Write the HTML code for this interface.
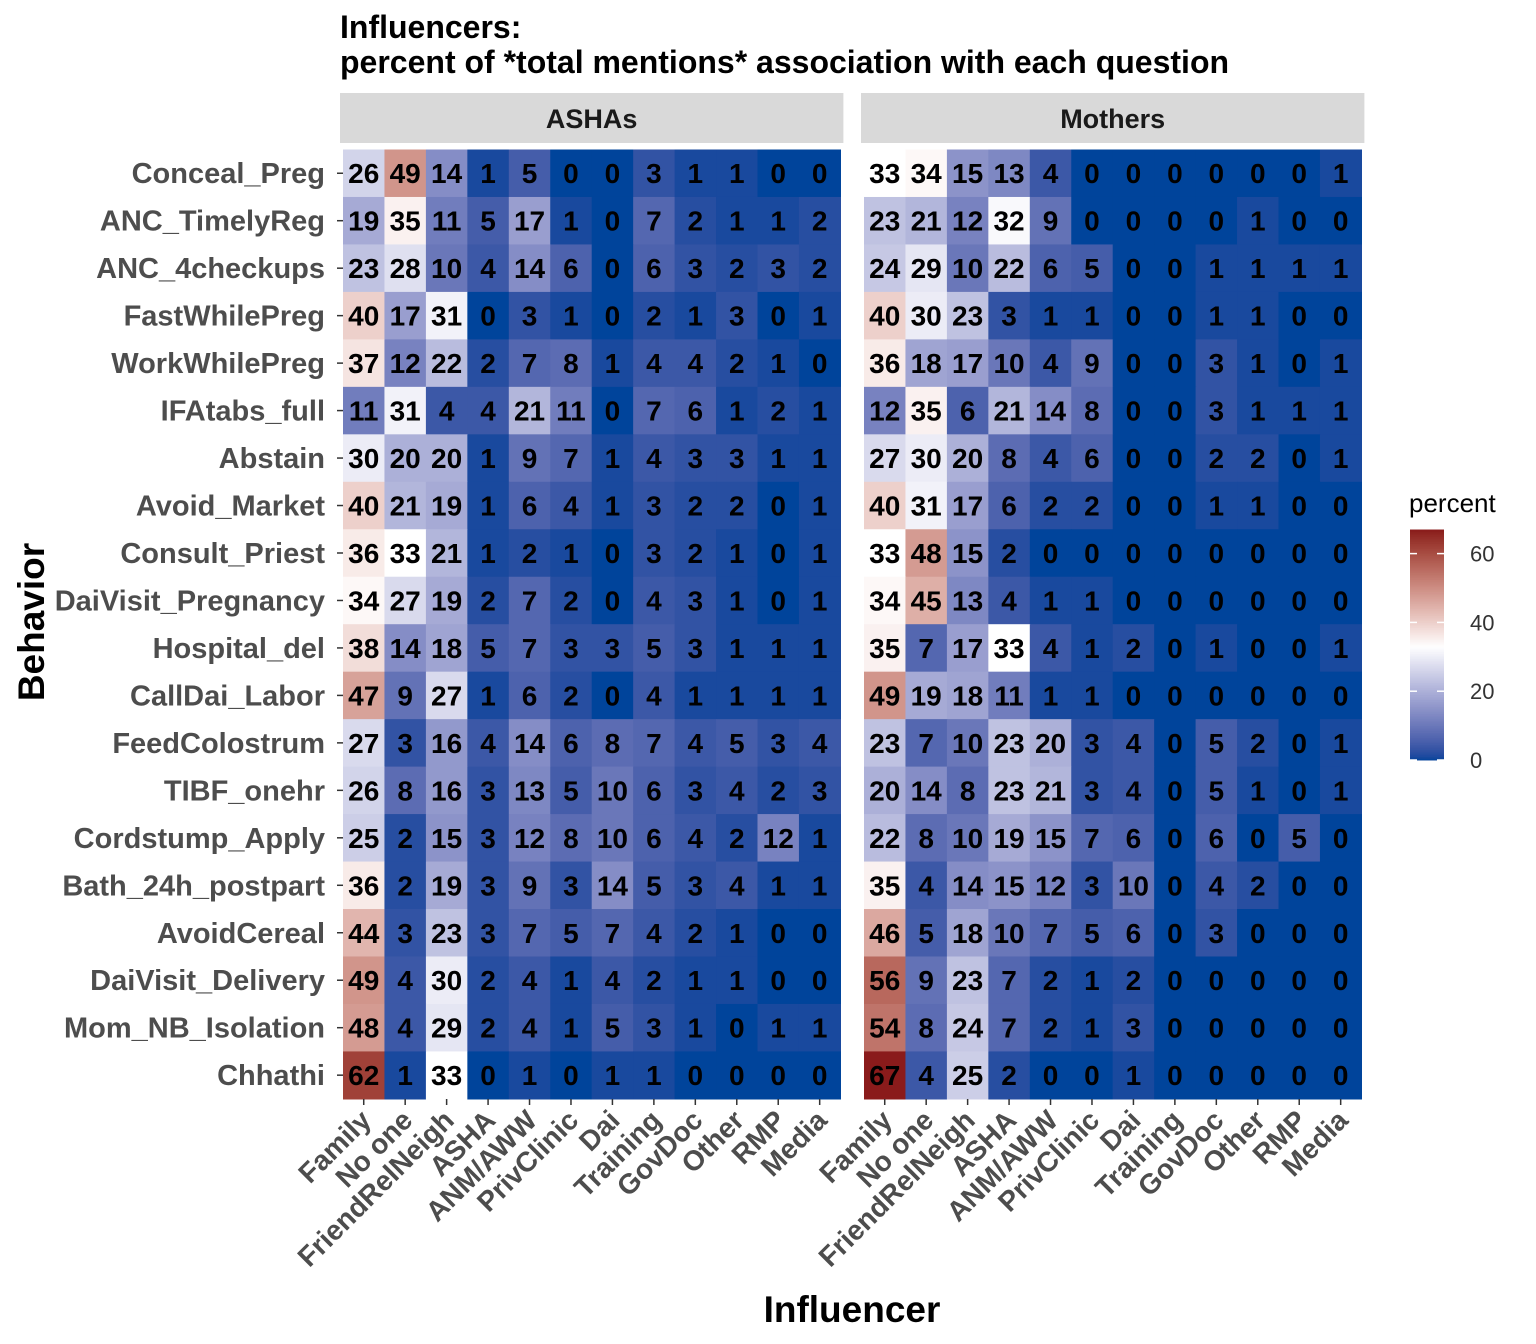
<!DOCTYPE html>
<html><head><meta charset="utf-8"><style>
body{margin:0;background:#fff;}
svg{display:block;font-family:"Liberation Sans",Arial,sans-serif;}
</style></head><body>
<svg id="c" width="1536" height="1344" xmlns="http://www.w3.org/2000/svg">
<text x="340" y="38" font-size="32" font-weight="bold">Influencers:</text>
<text x="340" y="73" font-size="32" font-weight="bold">percent of *total mentions* association with each question</text>
<text x="852" y="1322" font-size="37" font-weight="bold" text-anchor="middle">Influencer</text>
<text transform="translate(44,622) rotate(-90)" font-size="37" font-weight="bold" text-anchor="middle">Behavior</text>
<g id="plots"></g>
<g id="legend"></g>
</svg>
<script>
const behaviors=["Conceal_Preg","ANC_TimelyReg","ANC_4checkups","FastWhilePreg","WorkWhilePreg","IFAtabs_full","Abstain","Avoid_Market","Consult_Priest","DaiVisit_Pregnancy","Hospital_del","CallDai_Labor","FeedColostrum","TIBF_onehr","Cordstump_Apply","Bath_24h_postpart","AvoidCereal","DaiVisit_Delivery","Mom_NB_Isolation","Chhathi"];
const influencers=["Family","No one","FriendRelNeigh","ASHA","ANM/AWW","PrivClinic","Dai","Training","GovDoc","Other","RMP","Media"];
const panels=["ASHAs","Mothers"];
const ashaValues=[
[26,49,14,1,5,0,0,3,1,1,0,0],[19,35,11,5,17,1,0,7,2,1,1,2],[23,28,10,4,14,6,0,6,3,2,3,2],[40,17,31,0,3,1,0,2,1,3,0,1],
[37,12,22,2,7,8,1,4,4,2,1,0],[11,31,4,4,21,11,0,7,6,1,2,1],[30,20,20,1,9,7,1,4,3,3,1,1],[40,21,19,1,6,4,1,3,2,2,0,1],
[36,33,21,1,2,1,0,3,2,1,0,1],[34,27,19,2,7,2,0,4,3,1,0,1],[38,14,18,5,7,3,3,5,3,1,1,1],[47,9,27,1,6,2,0,4,1,1,1,1],
[27,3,16,4,14,6,8,7,4,5,3,4],[26,8,16,3,13,5,10,6,3,4,2,3],[25,2,15,3,12,8,10,6,4,2,12,1],[36,2,19,3,9,3,14,5,3,4,1,1],
[44,3,23,3,7,5,7,4,2,1,0,0],[49,4,30,2,4,1,4,2,1,1,0,0],[48,4,29,2,4,1,5,3,1,0,1,1],[62,1,33,0,1,0,1,1,0,0,0,0]];
const motherValues=[
[33,34,15,13,4,0,0,0,0,0,0,1],[23,21,12,32,9,0,0,0,0,1,0,0],[24,29,10,22,6,5,0,0,1,1,1,1],[40,30,23,3,1,1,0,0,1,1,0,0],
[36,18,17,10,4,9,0,0,3,1,0,1],[12,35,6,21,14,8,0,0,3,1,1,1],[27,30,20,8,4,6,0,0,2,2,0,1],[40,31,17,6,2,2,0,0,1,1,0,0],
[33,48,15,2,0,0,0,0,0,0,0,0],[34,45,13,4,1,1,0,0,0,0,0,0],[35,7,17,33,4,1,2,0,1,0,0,1],[49,19,18,11,1,1,0,0,0,0,0,0],
[23,7,10,23,20,3,4,0,5,2,0,1],[20,14,8,23,21,3,4,0,5,1,0,1],[22,8,10,19,15,7,6,0,6,0,5,0],[35,4,14,15,12,3,10,0,4,2,0,0],
[46,5,18,10,7,5,6,0,3,0,0,0],[56,9,23,7,2,1,2,0,0,0,0,0],[54,8,24,7,2,1,3,0,0,0,0,0],[67,4,25,2,0,0,1,0,0,0,0,0]];
const legendTicks=[0,20,40,60];
const NS="http://www.w3.org/2000/svg";
function mk(t,a,p){const e=document.createElementNS(NS,t);for(const k in a)e.setAttribute(k,a[k]);p.appendChild(e);return e;}
function s2l(c){c/=255;return c<=0.04045?c/12.92:Math.pow((c+0.055)/1.055,2.4);}
function l2s(c){c=c<=0.0031308?12.92*c:1.055*Math.pow(c,1/2.4)-0.055;return Math.max(0,Math.min(255,Math.round(c*255)));}
function toLab(h){const r=s2l(parseInt(h.slice(1,3),16)),g=s2l(parseInt(h.slice(3,5),16)),b=s2l(parseInt(h.slice(5,7),16));
let X=(r*0.4124+g*0.3576+b*0.1805)/0.95047,Y=r*0.2126+g*0.7152+b*0.0722,Z=(r*0.0193+g*0.1192+b*0.9505)/1.08883;
const f=t=>t>0.008856?Math.cbrt(t):7.787*t+16/116;X=f(X);Y=f(Y);Z=f(Z);return[116*Y-16,500*(X-Y),200*(Y-Z)];}
function fromLab(L){let Y=(L[0]+16)/116,X=L[1]/500+Y,Z=Y-L[2]/200;const fi=t=>t*t*t>0.008856?t*t*t:(t-16/116)/7.787;
X=fi(X)*0.95047;Y=fi(Y);Z=fi(Z)*1.08883;
const r=X*3.2406+Y*-1.5372+Z*-0.4986,g=X*-0.9689+Y*1.8758+Z*0.0415,b=X*0.0557+Y*-0.2040+Z*1.0570;
return `rgb(${l2s(r)},${l2s(g)},${l2s(b)})`;}
const LOW=toLab("#00449b"),MID=toLab("#ffffff"),HIGH=toLab("#8a1b1b"),MIDV=33,MAXV=67;
function col(v){let a,b,t;if(v<=MIDV){a=LOW;b=MID;t=v/MIDV;}else{a=MID;b=HIGH;t=Math.min(1,(v-MIDV)/(MAXV-MIDV));}
return fromLab([a[0]+(b[0]-a[0])*t,a[1]+(b[1]-a[1])*t,a[2]+(b[2]-a[2])*t]);}
const gridTop=149.5,rowH=47.47,colW=41.45;
const panelX=[343,864];
const xS=(p,i)=>panelX[p]+i*colW;
const yS=j=>gridTop+j*rowH;
const plots=document.getElementById('plots');
const data=[ashaValues,motherValues];
panels.forEach((pn,p)=>{
  const g=mk('g',{},plots);
  
  
  const sx=panelX[p]-3,sw=12*colW+6;
  const st=mk('rect',{x:sx,y:93,width:sw,height:50,fill:'#d9d9d9'},g);
  
  
  const stt=mk('text',{x:sx+sw/2,y:128,'font-size':27,'font-weight':'bold','text-anchor':'middle',fill:'#1a1a1a'},g);
  stt.textContent=pn;
  
  
  data[p].forEach((row,j)=>row.forEach((v,i)=>{
    const r=mk('rect',{x:xS(p,i),y:yS(j),width:colW+0.6,height:rowH+0.6,fill:col(v)},g);
    
    
    const t=mk('text',{x:xS(p,i)+colW/2,y:yS(j)+rowH/2+10,'font-size':28,'font-weight':'bold','text-anchor':'middle',fill:'#000'},g);
    t.textContent=v;
    
    
  }));
  influencers.forEach((n,i)=>{
    const cx=xS(p,i)+colW/2;
    mk('line',{x1:cx,x2:cx,y1:1099,y2:1105,stroke:'#333','stroke-width':1.5},g);
    const t=mk('text',{transform:`translate(${cx+9},${1122}) rotate(-45)`,'font-size':28,'font-weight':'bold','text-anchor':'end',fill:'#4d4d4d'},g);
    t.textContent=n;
    
    
  });
});
behaviors.forEach((b,j)=>{
  const cy=yS(j)+rowH/2;
  mk('line',{x1:337,x2:343,y1:cy,y2:cy,stroke:'#333','stroke-width':1.5},plots);
  const t=mk('text',{x:325,y:cy+10,'font-size':29,'font-weight':'bold','text-anchor':'end',fill:'#4d4d4d'},plots);
  t.textContent=b;
  
  
});
const lg=document.getElementById('legend');
const lt=mk('text',{x:1409,y:512,'font-size':26,fill:'#000'},lg);lt.textContent='percent';


const ly=v=>760-v*3.44;
for(let v=0;v<MAXV;v+=0.5){mk('rect',{x:1410,y:ly(v+0.5),width:34,height:2.2,fill:col(v+0.25)},lg);}
legendTicks.forEach(v=>{
  mk('line',{x1:1410,x2:1417,y1:ly(v),y2:ly(v),stroke:'#fff','stroke-width':1.5},lg);
  mk('line',{x1:1437,x2:1444,y1:ly(v),y2:ly(v),stroke:'#fff','stroke-width':1.5},lg);
  const t=mk('text',{x:1470,y:ly(v)+8,'font-size':22,fill:'#333'},lg);t.textContent=v;
  
  
});
</script>
</body></html>
